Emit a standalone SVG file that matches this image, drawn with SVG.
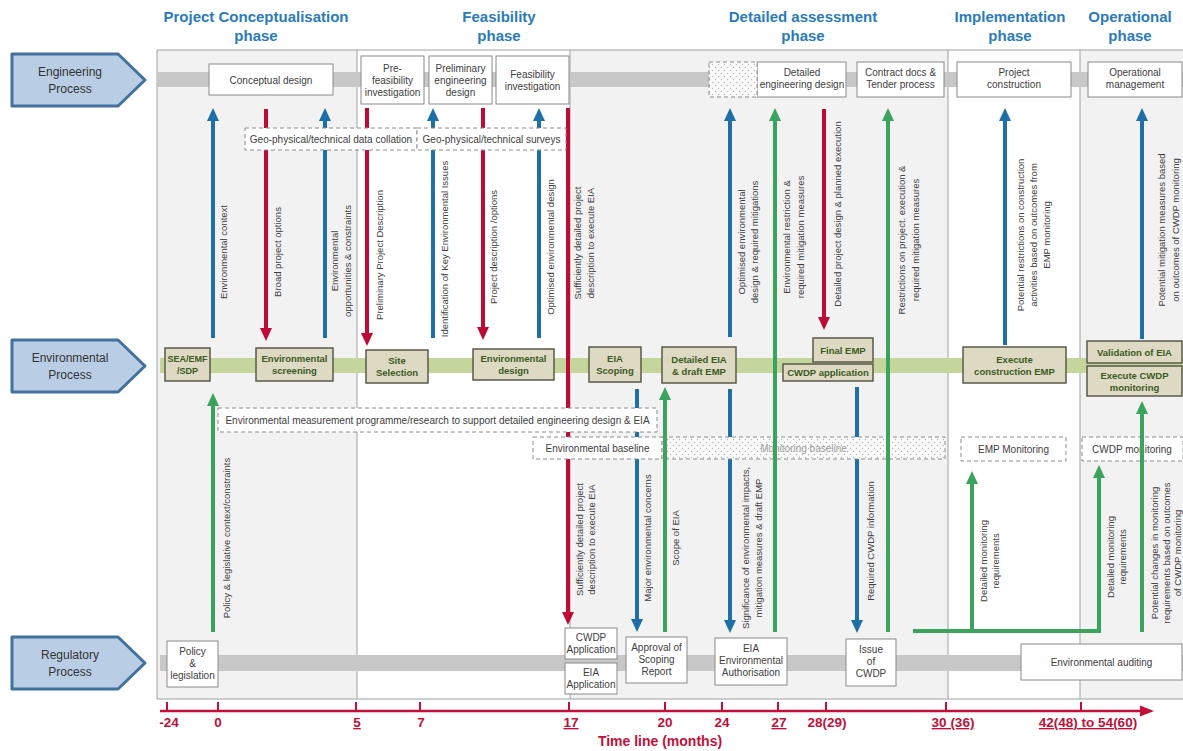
<svg xmlns="http://www.w3.org/2000/svg" width="1183" height="751" viewBox="0 0 1183 751">
  <defs>
    <style>
      .hdr { font-family: "Liberation Sans", Arial, sans-serif; font-size: 15px; font-weight: bold; fill: #2b7bba; text-anchor: middle; }
      .proc { fill: #b9cde5; stroke: #41719c; stroke-width: 3; stroke-linejoin: round; }
      .ptxt { font-family: "Liberation Sans", Arial, sans-serif; font-size: 12px; fill: #333; text-anchor: middle; }
      .box { fill: #fff; stroke: #8a8a8a; stroke-width: 1; }
      .t10 { font-family: "Liberation Sans", Arial, sans-serif; font-size: 10px; fill: #404040; text-anchor: middle; }
      .ebox { fill: #ddd9c3; stroke: #5a5a4a; stroke-width: 1.5; }
      .et { font-family: "Liberation Sans", Arial, sans-serif; font-size: 9.5px; font-weight: bold; fill: #3c5a22; text-anchor: middle; }
      .dash { fill: #fff; stroke: #8c8c8c; stroke-width: 1; stroke-dasharray: 4 3; }
      .dots { fill: url(#dots); stroke: #8c8c8c; stroke-width: 1; stroke-dasharray: 4 3; }
      .lbl { font-family: "Liberation Sans", Arial, sans-serif; font-size: 9.5px; fill: #404040; text-anchor: middle; }
      .ab { stroke: #1d6fa6; stroke-width: 4; fill: none; marker-end: url(#mb); }
      .ar { stroke: #be0b36; stroke-width: 4; fill: none; marker-end: url(#mr); }
      .ag { stroke: #3aa35c; stroke-width: 4; fill: none; marker-end: url(#mg); }
      .tl { font-family: "Liberation Sans", Arial, sans-serif; font-size: 13.5px; font-weight: bold; fill: #c0103a; text-anchor: middle; }
      .u { text-decoration: underline; }
    </style>
    <pattern id="dots" width="6" height="6" patternUnits="userSpaceOnUse">
      <rect width="6" height="6" fill="#fafafa"/>
      <circle cx="1.5" cy="1.5" r="0.7" fill="#b4b4b4"/>
      <circle cx="4.5" cy="4.5" r="0.7" fill="#b4b4b4"/>
    </pattern>
    <marker id="mb" viewBox="0 0 13 12" refX="5" refY="6" markerWidth="13" markerHeight="12" markerUnits="userSpaceOnUse" orient="auto">
      <path d="M0,0 L13,6 L0,12 z" fill="#1d6fa6"/>
    </marker>
    <marker id="mr" viewBox="0 0 13 12" refX="5" refY="6" markerWidth="13" markerHeight="12" markerUnits="userSpaceOnUse" orient="auto">
      <path d="M0,0 L13,6 L0,12 z" fill="#be0b36"/>
    </marker>
    <marker id="mg" viewBox="0 0 13 12" refX="5" refY="6" markerWidth="13" markerHeight="12" markerUnits="userSpaceOnUse" orient="auto">
      <path d="M0,0 L13,6 L0,12 z" fill="#3aa35c"/>
    </marker>
  </defs>

  <rect width="1183" height="751" fill="#fff"/>

  <!-- phase panels -->
  <g id="panels">
    <rect x="157" y="50" width="200" height="649" fill="#f2f2f2"/>
    <rect x="570" y="50" width="378" height="649" fill="#f2f2f2"/>
    <rect x="1080" y="50" width="103" height="649" fill="#f2f2f2"/>
    <path d="M157,50 H1183 M157,699 H1183 M157,50 V699 M357,50 V699 M570,50 V699 M948,50 V699 M1080,50 V699" stroke="#a0a0a0" stroke-width="1" fill="none"/>
  </g>

  <!-- phase headings -->
  <g id="headings">
    <text class="hdr" x="256" y="22">Project Conceptualisation</text>
    <text class="hdr" x="256" y="41">phase</text>
    <text class="hdr" x="499" y="22">Feasibility</text>
    <text class="hdr" x="499" y="41">phase</text>
    <text class="hdr" x="803" y="22">Detailed assessment</text>
    <text class="hdr" x="803" y="41">phase</text>
    <text class="hdr" x="1010" y="22">Implementation</text>
    <text class="hdr" x="1010" y="41">phase</text>
    <text class="hdr" x="1130" y="22">Operational</text>
    <text class="hdr" x="1130" y="41">phase</text>
  </g>

  <!-- process bands -->
  <g id="bands">
    <rect x="157" y="72" width="1026" height="15" fill="#c8c8c8"/>
    <rect x="160" y="358" width="1023" height="15" fill="#c4d69b"/>
    <rect x="160" y="655" width="1023" height="16" fill="#c8c8c8"/>
  </g>

  <!-- process lane labels -->
  <g id="lane-engineering">
    <polygon class="proc" points="12,54 118,54 145,80 118,106 12,106"/>
    <text class="ptxt" x="70" y="76">Engineering</text>
    <text class="ptxt" x="70" y="93">Process</text>
  </g>
  <g id="lane-environmental">
    <polygon class="proc" points="12,340 118,340 145,366 118,392 12,392"/>
    <text class="ptxt" x="70" y="362">Environmental</text>
    <text class="ptxt" x="70" y="379">Process</text>
  </g>
  <g id="lane-regulatory">
    <polygon class="proc" points="12,637 118,637 145,663 118,689 12,689"/>
    <text class="ptxt" x="70" y="659">Regulatory</text>
    <text class="ptxt" x="70" y="676">Process</text>
  </g>

  <!-- connectors drawn beneath boxes (blue and red) -->
  <g id="connectors-under">
    <line class="ab" x1="213" y1="338" x2="213" y2="116"/>
    <line class="ar" x1="266" y1="109" x2="266" y2="333"/>
    <line class="ab" x1="325" y1="338" x2="325" y2="116"/>
    <line class="ar" x1="367" y1="108" x2="367" y2="338"/>
    <line class="ab" x1="433" y1="338" x2="433" y2="116"/>
    <line class="ar" x1="483" y1="108" x2="483" y2="332"/>
    <line class="ab" x1="539" y1="338" x2="539" y2="116"/>
    <line class="ar" x1="568" y1="108" x2="568" y2="617"/>
    <line class="ab" x1="730" y1="337" x2="730" y2="116"/>
    <line class="ar" x1="824" y1="109" x2="824" y2="322"/>
    <line class="ab" x1="1005" y1="345" x2="1005" y2="116"/>
    <line class="ab" x1="1142" y1="339" x2="1142" y2="116"/>
    <line class="ab" x1="637" y1="389" x2="637" y2="624"/>
    <line class="ab" x1="730" y1="389" x2="730" y2="625"/>
    <line class="ab" x1="857" y1="387" x2="857" y2="625"/>
  </g>

  <!-- engineering process steps -->
  <g id="eng-conceptual">
    <rect class="box" x="209" y="64" width="124" height="31"/>
    <text class="t10" x="271" y="83.5">Conceptual design</text>
  </g>
  <g id="eng-prefeasibility">
    <rect class="box" x="361" y="56" width="63" height="48"/>
    <text class="t10" x="392.5" y="71.5">Pre-</text>
    <text class="t10" x="392.5" y="83.5">feasibility</text>
    <text class="t10" x="392.5" y="95.5">investigation</text>
  </g>
  <g id="eng-preliminary">
    <rect class="box" x="429" y="56" width="63" height="48"/>
    <text class="t10" x="460.5" y="71.5">Preliminary</text>
    <text class="t10" x="460.5" y="83.5">engineering</text>
    <text class="t10" x="460.5" y="95.5">design</text>
  </g>
  <g id="eng-feasibility">
    <rect class="box" x="496" y="56" width="73" height="48"/>
    <text class="t10" x="532.5" y="77.5">Feasibility</text>
    <text class="t10" x="532.5" y="89.5">investigation</text>
  </g>
  <g id="eng-detailed">
    <rect class="box" x="757" y="62" width="89" height="35"/>
    <rect class="dots" x="709" y="62" width="48" height="35" stroke="#555"/>
    <text class="t10" x="802" y="76">Detailed</text>
    <text class="t10" x="802" y="88">engineering design</text>
  </g>
  <g id="eng-contract">
    <rect class="box" x="857" y="62" width="87" height="35"/>
    <text class="t10" x="900.5" y="76">Contract docs &amp;</text>
    <text class="t10" x="900.5" y="88">Tender process</text>
  </g>
  <g id="eng-construction">
    <rect class="box" x="957" y="62" width="114" height="35"/>
    <text class="t10" x="1014" y="76">Project</text>
    <text class="t10" x="1014" y="88">construction</text>
  </g>
  <g id="eng-operational">
    <rect class="box" x="1088" y="62" width="94" height="35"/>
    <text class="t10" x="1135" y="76">Operational</text>
    <text class="t10" x="1135" y="88">management</text>
  </g>

  <!-- supporting data activities -->
  <g id="geo-collation">
    <rect class="dash" x="245" y="128" width="172" height="22"/>
    <text class="t10" x="331" y="143">Geo-physical/technical data collation</text>
  </g>
  <g id="geo-surveys">
    <rect class="dash" x="417" y="128" width="149" height="22"/>
    <text class="t10" x="491.5" y="143">Geo-physical/technical surveys</text>
  </g>

  <!-- environmental process steps -->
  <g id="env-sea">
    <rect class="ebox" x="165" y="348" width="45" height="33"/>
    <text class="et" x="187.5" y="362" style="font-size:9px">SEA/EMF</text>
    <text class="et" x="187.5" y="374" style="font-size:9px">/SDP</text>
  </g>
  <g id="env-screening">
    <rect class="ebox" x="256" y="348" width="77" height="33"/>
    <text class="et" x="294.5" y="362">Environmental</text>
    <text class="et" x="294.5" y="374">screening</text>
  </g>
  <g id="env-site">
    <rect class="ebox" x="366" y="350" width="62" height="33"/>
    <text class="et" x="397" y="364">Site</text>
    <text class="et" x="397" y="376">Selection</text>
  </g>
  <g id="env-design">
    <rect class="ebox" x="473" y="349" width="81" height="31"/>
    <text class="et" x="513.5" y="362">Environmental</text>
    <text class="et" x="513.5" y="374">design</text>
  </g>
  <g id="env-scoping">
    <rect class="ebox" x="589" y="347" width="52" height="35"/>
    <text class="et" x="615" y="362">EIA</text>
    <text class="et" x="615" y="374">Scoping</text>
  </g>
  <g id="env-detailed-eia">
    <rect class="ebox" x="662" y="347" width="74" height="36"/>
    <text class="et" x="699" y="362.5">Detailed EIA</text>
    <text class="et" x="699" y="374.5">&amp; draft EMP</text>
  </g>
  <g id="env-final-emp">
    <rect class="ebox" x="813" y="338" width="60" height="24"/>
    <text class="et" x="843" y="353.5">Final EMP</text>
  </g>
  <g id="env-cwdp-app">
    <rect class="ebox" x="783" y="364" width="90" height="17"/>
    <text class="et" x="828" y="376">CWDP application</text>
  </g>
  <g id="env-construction-emp">
    <rect class="ebox" x="963" y="347" width="103" height="36"/>
    <text class="et" x="1014.5" y="362.5">Execute</text>
    <text class="et" x="1014.5" y="374.5">construction EMP</text>
  </g>
  <g id="env-validation">
    <rect class="ebox" x="1087" y="341" width="95" height="22"/>
    <text class="et" x="1134.5" y="355.5">Validation of EIA</text>
  </g>
  <g id="env-cwdp-monitoring">
    <rect class="ebox" x="1087" y="366" width="95" height="30"/>
    <text class="et" x="1134.5" y="378.5">Execute CWDP</text>
    <text class="et" x="1134.5" y="390.5">monitoring</text>
  </g>

  <!-- measurement and monitoring activities -->
  <g id="env-measurement">
    <rect class="dash" x="218" y="408" width="439" height="24"/>
    <text class="t10" x="437.5" y="424">Environmental measurement programme/research to support detailed engineering design &amp; EIA</text>
  </g>
  <g id="env-baseline">
    <rect class="dash" x="533" y="437" width="129" height="22"/>
    <text class="t10" x="597.5" y="452">Environmental baseline</text>
  </g>
  <g id="monitoring-baseline">
    <rect class="dots" x="662" y="437" width="283" height="22"/>
    <text class="t10" x="803.5" y="452" style="fill:#a0a0a0">Monitoring baseline</text>
  </g>
  <g id="emp-monitoring">
    <rect class="dash" x="961" y="437" width="105" height="24"/>
    <text class="t10" x="1013.5" y="453">EMP Monitoring</text>
  </g>
  <g id="cwdp-monitoring">
    <rect class="dash" x="1082" y="437" width="101" height="24"/>
    <text class="t10" x="1132" y="453">CWDP monitoring</text>
  </g>

  <!-- connectors drawn above boxes (green) -->
  <g id="connectors-over">
    <line class="ag" x1="775" y1="632" x2="775" y2="116"/>
    <line class="ag" x1="888" y1="632" x2="888" y2="116"/>
    <line class="ag" x1="213" y1="632" x2="213" y2="401"/>
    <line class="ag" x1="665" y1="632" x2="665" y2="395"/>
    <line class="ag" x1="972" y1="631" x2="972" y2="479"/>
    <path class="ag" d="M913,631 H1099 V473"/>
    <line class="ag" x1="1142" y1="632" x2="1142" y2="409"/>
  </g>

  <!-- regulatory process steps -->
  <g id="reg-policy">
    <rect class="box" x="167" y="641" width="51" height="46"/>
    <text class="t10" x="192.5" y="655">Policy</text>
    <text class="t10" x="192.5" y="667">&amp;</text>
    <text class="t10" x="192.5" y="679">legislation</text>
  </g>
  <g id="reg-cwdp-application">
    <rect class="box" x="565" y="628" width="52" height="31"/>
    <text class="t10" x="591" y="641">CWDP</text>
    <text class="t10" x="591" y="653">Application</text>
  </g>
  <g id="reg-eia-application">
    <rect class="box" x="565" y="663" width="52" height="31"/>
    <text class="t10" x="591" y="676">EIA</text>
    <text class="t10" x="591" y="688">Application</text>
  </g>
  <g id="reg-scoping-approval">
    <rect class="box" x="626" y="637" width="61" height="46"/>
    <text class="t10" x="656.5" y="651">Approval of</text>
    <text class="t10" x="656.5" y="663">Scoping</text>
    <text class="t10" x="656.5" y="675">Report</text>
  </g>
  <g id="reg-authorisation">
    <rect class="box" x="715" y="638" width="72" height="47"/>
    <text class="t10" x="751" y="652">EIA</text>
    <text class="t10" x="751" y="664">Environmental</text>
    <text class="t10" x="751" y="676">Authorisation</text>
  </g>
  <g id="reg-cwdp-issue">
    <rect class="box" x="846" y="639" width="50" height="47"/>
    <text class="t10" x="871" y="653">Issue</text>
    <text class="t10" x="871" y="665">of</text>
    <text class="t10" x="871" y="677">CWDP</text>
  </g>
  <g id="reg-auditing">
    <rect class="box" x="1021" y="644" width="161" height="36"/>
    <text class="t10" x="1101.5" y="665.5">Environmental auditing</text>
  </g>

  <!-- connector labels -->
  <g id="connector-labels">
    <text class="lbl" transform="translate(226.5,252) rotate(-90)">Environmental context</text>
    <text class="lbl" transform="translate(280.5,252) rotate(-90)">Broad project options</text>
    <text class="lbl" transform="translate(338,261) rotate(-90)"><tspan x="0">Environmental</tspan><tspan x="0" dy="13">opportunities &amp; constraints</tspan></text>
    <text class="lbl" transform="translate(382.5,255) rotate(-90)">Preliminary Project Description</text>
    <text class="lbl" transform="translate(447.5,249) rotate(-90)">Identification of Key Environmental Issues</text>
    <text class="lbl" transform="translate(496.5,247) rotate(-90)">Project description /options</text>
    <text class="lbl" transform="translate(553.5,247) rotate(-90)">Optimised environmental design</text>
    <text class="lbl" transform="translate(581,243) rotate(-90)"><tspan x="0">Sufficiently detailed project</tspan><tspan x="0" dy="13">description to execute EIA</tspan></text>
    <text class="lbl" transform="translate(744.5,242) rotate(-90)"><tspan x="0">Optimised environmental</tspan><tspan x="0" dy="13.5">design &amp; required mitigations</tspan></text>
    <text class="lbl" transform="translate(790,237) rotate(-90)"><tspan x="0">Environmental restriction &amp;</tspan><tspan x="0" dy="13.5">required mitigation measures</tspan></text>
    <text class="lbl" transform="translate(840.5,214) rotate(-90)">Detailed project design &amp; planned execution</text>
    <text class="lbl" transform="translate(905,240) rotate(-90)"><tspan x="0">Restrictions on project. execution &amp;</tspan><tspan x="0" dy="13.5">required mitigation measures</tspan></text>
    <text class="lbl" transform="translate(1024,235) rotate(-90)"><tspan x="0">Potential restrictions on construction</tspan><tspan x="0" dy="12.8">activities based on outcomes from</tspan><tspan x="0" dy="12.8">EMP monitoring</tspan></text>
    <text class="lbl" transform="translate(1165,230) rotate(-90)"><tspan x="0">Potential mitigation measures based</tspan><tspan x="0" dy="13.5">on outcomes of CWDP monitoring</tspan></text>

    <text class="lbl" transform="translate(229.5,538) rotate(-90)">Policy &amp; legislative context/constraints</text>
    <text class="lbl" transform="translate(582.5,539.5) rotate(-90)"><tspan x="0">Sufficiently detailed project</tspan><tspan x="0" dy="12.5">description to execute EIA</tspan></text>
    <text class="lbl" transform="translate(650.5,538) rotate(-90)">Major environmental concerns</text>
    <text class="lbl" transform="translate(678.5,538) rotate(-90)">Scope of EIA</text>
    <text class="lbl" transform="translate(749,548) rotate(-90)"><tspan x="0">Significance of environmental  impacts,</tspan><tspan x="0" dy="12.5">mitigation measures &amp; draft EMP</tspan></text>
    <text class="lbl" transform="translate(874,541) rotate(-90)">Required CWDP information</text>
    <text class="lbl" transform="translate(987,561) rotate(-90)"><tspan x="0">Detailed monitoring</tspan><tspan x="0" dy="12">requirements</tspan></text>
    <text class="lbl" transform="translate(1114,557) rotate(-90)"><tspan x="0">Detailed monitoring</tspan><tspan x="0" dy="12">requirements</tspan></text>
    <text class="lbl" transform="translate(1158,553) rotate(-90)"><tspan x="0">Potential changes in monitoring</tspan><tspan x="0" dy="11.7">requirements based on outcomes</tspan><tspan x="0" dy="11.7">of CWDP monitoring</tspan></text>
  </g>

  <!-- time line axis -->
  <g id="timeline">
    <line x1="160" y1="711" x2="1142" y2="711" stroke="#c0103a" stroke-width="2.5"/>
    <polygon points="1140,705.5 1154,711 1140,716.5" fill="#c0103a"/>
    <path d="M167,702 V711 M218,702 V711 M356,702 V711 M420,702 V711 M569,702 V711 M665,702 V711 M722,702 V711 M778,702 V711 M826,702 V711 M946,702 V711 M1081,702 V711" stroke="#c0103a" stroke-width="2" fill="none"/>
    <text class="tl" x="169" y="727">-24</text>
    <text class="tl" x="218" y="727">0</text>
    <text class="tl u" x="357" y="727">5</text>
    <text class="tl" x="421" y="727">7</text>
    <text class="tl u" x="571" y="727">17</text>
    <text class="tl" x="665" y="727">20</text>
    <text class="tl" x="722" y="727">24</text>
    <text class="tl u" x="779" y="727">27</text>
    <text class="tl" x="827" y="727">28(29)</text>
    <text class="tl u" x="953" y="727">30 (36)</text>
    <text class="tl u" x="1088" y="727">42(48) to 54(60)</text>
    <text class="tl" x="660" y="746" style="font-size:14px">Time line (months)</text>
  </g>
</svg>
